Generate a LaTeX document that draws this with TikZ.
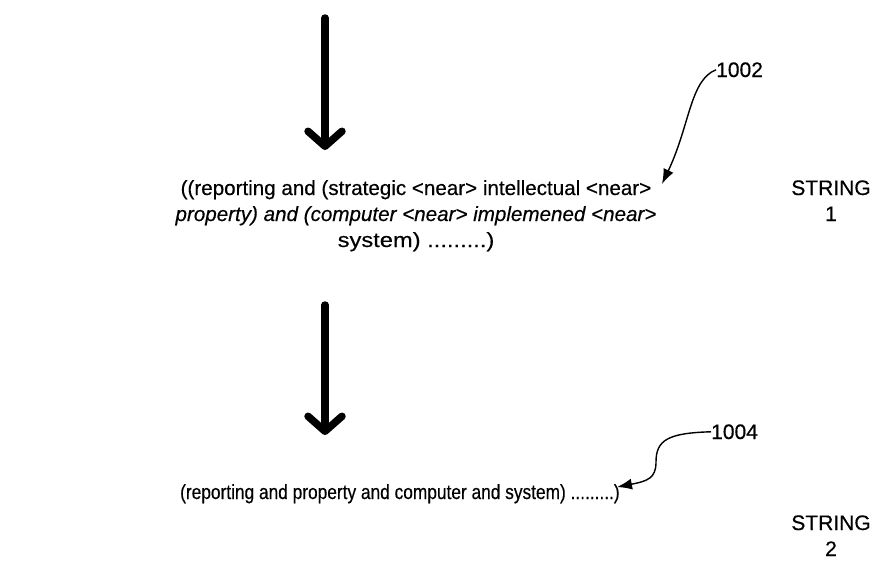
\documentclass[tikz,border=0pt]{standalone}
\usepackage{fontspec}
\setmainfont{Liberation Sans}[FakeBold=0.4]
\usetikzlibrary{arrows.meta}
\begin{document}
\begin{tikzpicture}[x=1pt,y=-1pt,
  flow/.style={line width=7.5pt, line cap=round,
    -{Straight Barb[length=15pt,width=34pt,line cap=round,line join=round]}},
  callout/.style={line width=1.4pt, -{Latex[length=15pt,width=11pt]}},
  body/.style={inner sep=0pt, anchor=base, font=\fontsize{20.6}{24}\selectfont},
  tag/.style={inner sep=0pt, anchor=base, font=\fontsize{21}{25}\selectfont}]
  \useasboundingbox (0,0) rectangle (890,582);

  % first query string
  \node[body] (s1a) at (416,195) {((reporting and (strategic <near> intellectual <near>};
  \node[body] (s1b) at (416,221) {\itshape property) and (computer <near> implemened <near>};
  \node[body, xscale=1.15] (s1c) at (416,247) {system) .........)};

  % reduced query string
  \node[body, anchor=base west, xscale=0.84] (s2) at (180,499) {(reporting and property and computer and system) .........)};

  % side labels
  \node[tag] (st1a) at (831,195) {STRING};
  \node[tag] (st1b) at (831,221) {1};
  \node[tag] (st2a) at (831,530) {STRING};
  \node[tag] (st2b) at (831,556) {2};

  % reference numerals
  \node[tag, anchor=base west] (r1002) at (716,77) {1002};
  \node[tag, anchor=base west] (r1004) at (711,439) {1004};

  % flow arrows
  \coordinate (a1top) at (325,18);
  \coordinate (a1tip) at (325,150);
  \coordinate (a2top) at (325,305);
  \coordinate (a2tip) at (325,435);
  \draw[flow] (a1top) -- (a1tip);
  \draw[flow] (a2top) -- (a2tip);

  % callout leaders
  \coordinate (c1tip) at (662,184);
  \coordinate (c2tip) at (617,487);
  \draw[callout] (r1004.west) .. controls (668,433) and (656,440) .. (656,462)
    .. controls (656,478) and (648,481) .. (c2tip);
  \draw[callout] (r1002.west) .. controls (690,80) and (690,125) .. (c1tip);
\end{tikzpicture}
\end{document}
